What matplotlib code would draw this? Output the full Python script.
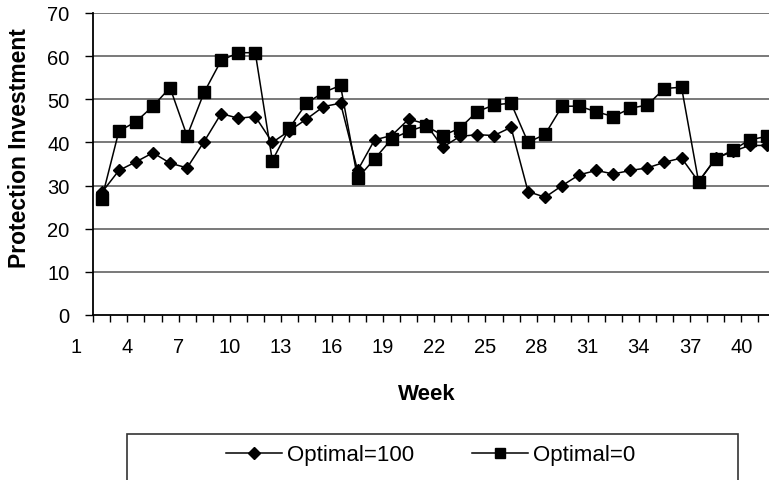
import numpy as np
import matplotlib
matplotlib.use('Agg')
import matplotlib.pyplot as plt
from matplotlib.patches import Rectangle
from matplotlib.lines import Line2D

plt.rcParams['font.family'] = ['Liberation Sans', 'DejaVu Sans']

# ─────────────────────────────────────────────
# DATA
# ─────────────────────────────────────────────
weeks = np.arange(1, 41)

optimal_100 = [28.4, 33.5, 35.5, 37.6, 35.2, 34.1, 40.2, 46.7, 45.6, 46.0,
               40.0, 42.7, 45.4, 48.3, 49.1, 33.5, 40.6, 41.6, 45.4, 44.3,
               38.9, 41.4, 41.8, 41.6, 43.5, 28.6, 27.3, 30.0, 32.5, 33.5,
               32.7, 33.5, 34.1, 35.4, 36.4, 30.9, 36.3, 37.9, 39.3, 39.3]

optimal_0 = [27.0, 42.6, 44.8, 48.4, 52.7, 41.5, 51.6, 59.0, 60.8, 60.8,
             35.8, 43.3, 49.1, 51.6, 53.2, 31.7, 36.2, 40.8, 42.6, 43.9,
             41.6, 43.3, 47.1, 48.7, 49.1, 40.0, 41.9, 48.4, 48.4, 47.1,
             46.0, 47.9, 48.7, 52.5, 52.8, 30.9, 36.2, 38.2, 40.6, 41.4]

tick_weeks = list(range(1, 41, 3))
y_ticks = [0, 10, 20, 30, 40, 50, 60, 70]

series_names = ['Optimal=100', 'Optimal=0']

# ─────────────────────────────────────────────
# FIGURE
# ─────────────────────────────────────────────
W, H = 769, 481
TICK_FS = 14.5
fig = plt.figure(figsize=(W / 100, H / 100), dpi=100)

# axis area in pixels: left 93, top 14, bottom 316, runs past right edge
ax = fig.add_axes([93.3 / W, (H - 316) / H, (775.3 - 93.3) / W, (316 - 14) / H])

# category axis: label k sits on tick k, points sit in the middle of a slot
xpos = weeks + 1.5
ax.plot(xpos, optimal_100, color='black', lw=1.1, marker='D', ms=6.5,
        mfc='black', mec='black', zorder=4, clip_on=False)
ax.plot(xpos, optimal_0, color='black', lw=1.1, marker='s', ms=8.2,
        mfc='black', mec='black', zorder=3, clip_on=False)

ax.set_xlim(2, 42)
ax.set_ylim(0, 70)

ax.set_yticks(y_ticks)
ax.set_xticks(range(2, 43))
ax.set_xticklabels([str(k) if k in tick_weeks else '' for k in range(2, 43)])

for y in y_ticks[1:]:
    ax.axhline(y, color='#555555', lw=1.1, zorder=1)

for side in ['top', 'right']:
    ax.spines[side].set_visible(False)
ax.spines['left'].set_linewidth(1.3)
ax.spines['bottom'].set_linewidth(1.3)

ax.tick_params(axis='y', direction='out', length=6, width=1, pad=11,
               labelsize=TICK_FS)
ax.tick_params(axis='x', direction='out', length=5, width=1, pad=11,
               labelsize=TICK_FS)

# the "1" label sits one slot left of the axis start, same offset as the others
tr, va, ha = ax.get_xaxis_text1_transform(5 + 11)
ax.text(1, 0, '1', transform=tr, ha=ha, va=va, fontsize=TICK_FS,
        clip_on=False)

fig.text(427 / W, 1 - 395 / H, 'Week', ha='center', va='center',
         fontsize=16, fontweight='bold')
fig.text(20 / W, 1 - 148.5 / H, 'Protection Investment', ha='center',
         va='center', rotation=90, fontsize=16.5, fontweight='bold')

# legend box (bottom edge falls off the picture)
fig.add_artist(Rectangle((127.3 / W, -0.05), (737.7 - 127.3) / W,
                         0.05 + 1 - 435 / H, transform=fig.transFigure,
                         fill=False, edgecolor='#333333', lw=1.2))
handles = [Line2D([], [], color='black', lw=1.1, marker='D', ms=6),
           Line2D([], [], color='black', lw=1.1, marker='s', ms=7.5)]
fig.legend(handles, series_names, loc='center', ncol=2, frameon=False,
           bbox_to_anchor=(431 / W, 1 - 456 / H), fontsize=16,
           handlelength=2.5, handletextpad=0.25, columnspacing=2.6)

fig.savefig('out.png', dpi=100)
